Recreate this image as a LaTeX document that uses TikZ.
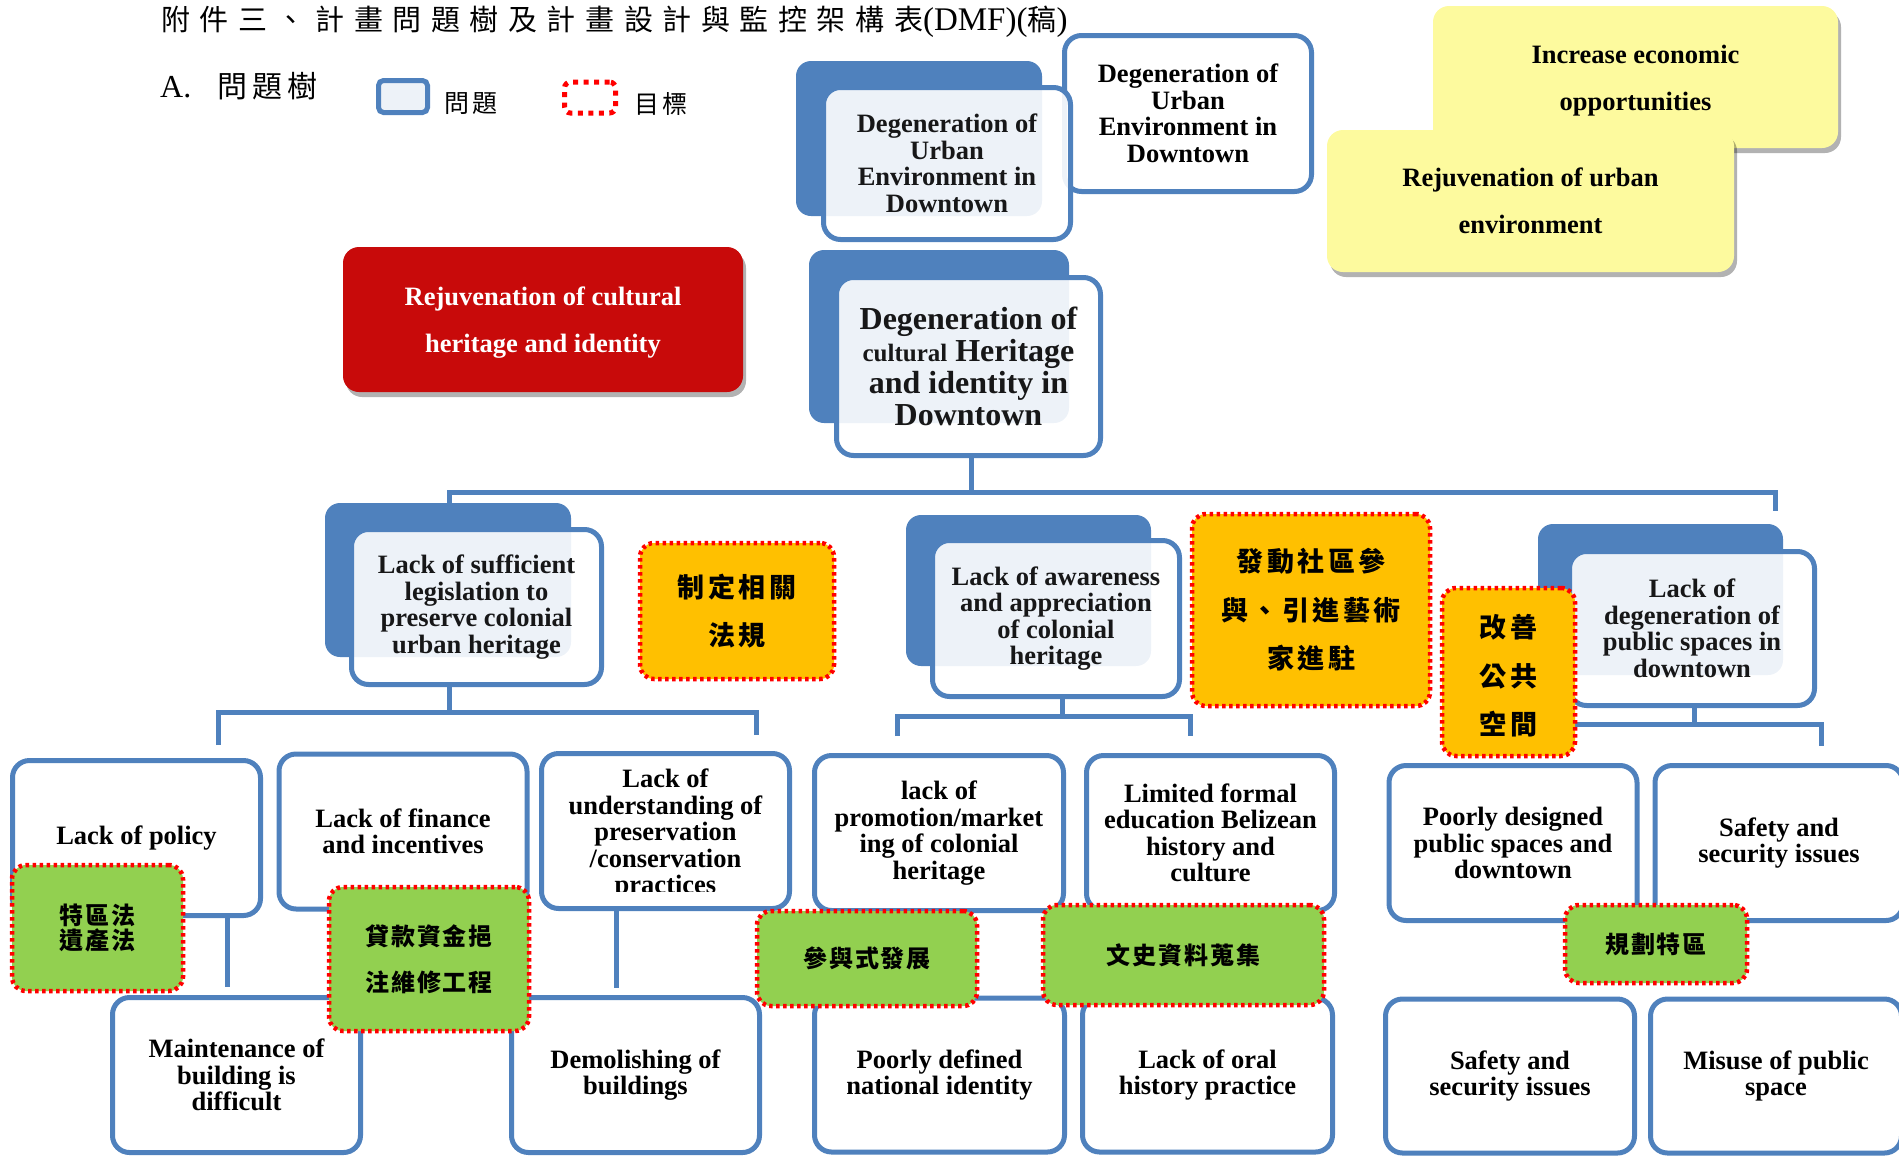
\documentclass[tikz,border=0pt]{standalone}
\usepackage{fontspec}
\setmainfont{Liberation Serif}
\newfontfamily\cjkT[LetterSpace=33]{Noto Sans CJK TC}
\newfontfamily\cjkA[LetterSpace=17]{Noto Sans CJK TC}
\newfontfamily\cjkL[LetterSpace=15]{Noto Sans CJK TC}
\newfontfamily\cjkO[LetterSpace=13]{Noto Sans CJK TC}
\newfontfamily\cjkG[LetterSpace=8]{Noto Sans CJK TC}
\usetikzlibrary{shadows}
\definecolor{bl}{HTML}{4F81BD}
\definecolor{lbl}{HTML}{EDF2F8}
\definecolor{org}{HTML}{FFC000}
\definecolor{grn}{HTML}{92D050}
\definecolor{ylw}{HTML}{FDFA9E}
\definecolor{rd}{HTML}{C80A0A}
\pgfdeclarelayer{bg}
\pgfsetlayers{bg,main}
\begin{document}
\begin{tikzpicture}[x=1pt,y=-1pt,
  en/.style={font={\fontsize{26.5}{26.5}\selectfont\bfseries}},
  prob/.style={draw=bl, line width=5pt, fill=white, rounded corners=17pt, inner sep=0pt, align=center, en},
  front/.style={prob, fill opacity=0.9},
  tabfill/.style={fill=bl, rounded corners=15pt},
  conn/.style={draw=bl, line width=5pt},
  goal/.style={draw=red, line width=4.5pt, dash pattern=on 3.5pt off 3.5pt, rounded corners=14pt, inner sep=0pt, align=center},
  ogoal/.style={goal, fill=org, font={\cjkO\fontsize{27}{48.5}\selectfont\bfseries}},
  ggoal/.style={goal, fill=grn, font={\cjkG\fontsize{24}{25}\selectfont\bfseries}},
  shad/.style={drop shadow={shadow xshift=3pt, shadow yshift=-5pt, opacity=0.3, fill=black}},
  ygoal/.style={fill=ylw, rounded corners=16pt, inner sep=0pt, align=center, shad, font={\fontsize{26.5}{47}\selectfont\bfseries}},
  rgoal/.style={fill=rd, rounded corners=16pt, inner sep=0pt, align=center, shad, text=white, font={\fontsize{26.5}{47}\selectfont\bfseries}}
]
\useasboundingbox (0,0) rectangle (1899,1157);

% title and legend
\node[anchor=west, inner sep=0pt] (title) at (161,22) {{\cjkT\fontsize{29}{29}\selectfont 附件三、計畫問題樹及計畫設計與監控架構表}{\fontsize{33}{33}\selectfont(DMF)(}{\cjkT\fontsize{29}{29}\selectfont 稿}{\fontsize{33}{33}\selectfont)}};
\node[anchor=west, inner sep=0pt] (secA) at (160,86) {{\fontsize{32}{32}\selectfont A.}\hspace{26pt}{\cjkA\fontsize{30}{30}\selectfont 問題樹}};
\node[draw=bl, line width=5pt, fill=lbl, rounded corners=5pt, minimum width=49pt, minimum height=32pt, inner sep=0pt] (LgP) at (403,96.5) {};
\node[anchor=west, inner sep=0pt, font={\cjkL\fontsize{25}{25}\selectfont}] (LgPt) at (444,104) {問題};
\node[draw=red, line width=5pt, dash pattern=on 5pt off 5.5pt, rounded corners=6pt, minimum width=51pt, minimum height=31pt, inner sep=0pt] (LgG) at (590,97.5) {};
\node[anchor=west, inner sep=0pt, font={\cjkL\fontsize{25}{25}\selectfont}] (LgGt) at (634,104) {目標};

% top group
\node[prob, minimum width=247pt, minimum height=156pt] (R1) at (1188,113.5) {Degeneration of\\Urban\\Environment in\\Downtown};
\fill[tabfill] (796,61) rectangle (1042,216);
\node[front, minimum width=247pt, minimum height=152pt] (F1) at (947,163.5) {Degeneration of\\Urban\\Environment in\\Downtown};
\fill[tabfill] (809,250) rectangle (1069,423);
\node[front, font={\fontsize{32}{32}\selectfont\bfseries}, minimum width=264pt, minimum height=178pt] (F2) at (968.5,366.5) {Degeneration of\\{\fontsize{25}{32}\selectfont cultural} Heritage\\and identity in\\Downtown};

\node[ygoal, minimum width=405pt, minimum height=142pt] (Y1) at (1635.5,77) {\rule{0pt}{26pt}Increase economic\\opportunities};
\node[ygoal, minimum width=407pt, minimum height=142pt] (Y2) at (1530.5,201) {Rejuvenation of urban\\environment};
\node[rgoal, minimum width=400pt, minimum height=145pt] (RG) at (543,319.5) {\rule{0pt}{25pt}Rejuvenation of cultural\\heritage and identity};

% level 2
\fill[tabfill] (325,503) rectangle (571,657);
\node[front, minimum width=250pt, minimum height=155pt] (A) at (476.5,607) {Lack of sufficient\\legislation to\\preserve colonial\\urban heritage};
\node[ogoal, minimum width=194pt, minimum height=136pt] (O1) at (737,611) {制定相關\\法規};
\fill[tabfill] (906,515) rectangle (1151,666);
\node[front, minimum width=247pt, minimum height=156pt] (C) at (1056,618.5) {Lack of awareness\\and appreciation\\of colonial\\heritage};
\node[ogoal, minimum width=238pt, minimum height=192pt] (D) at (1311,610) {發動社區參\\與、引進藝術\\家進駐};
\fill[tabfill] (1538,524) rectangle (1783,675);
\node[front, minimum width=245pt, minimum height=154pt] (E) at (1692,628.5) {Lack of\\degeneration of\\public spaces in\\downtown};
\node[ogoal, minimum width=133pt, minimum height=168pt] (Fo) at (1508.5,672) {\rule{0pt}{31pt}改善\\公共\\空間};

% level 3, row 1
\node[prob, minimum width=248pt, minimum height=155pt] (G1) at (136.5,838) {Lack of policy};
\node[prob, minimum width=248pt, minimum height=155pt] (G2) at (403,831.5) {Lack of finance\\and incentives};
\node[prob, minimum width=248pt, minimum height=155pt] (G3) at (665.5,831) {};
\begin{scope}
\clip (530,740) rectangle (800,891);
\node[en, align=center, inner sep=0pt] (G3t) at (665.5,834) {Lack of\\understanding of\\preservation\\/conservation\\practices};
\end{scope}
\node[prob, minimum width=249pt, minimum height=155pt] (G4) at (939,833) {lack of\\promotion/market\\ing of colonial\\heritage};
\node[prob, minimum width=248pt, minimum height=155pt] (G5) at (1210.5,833) {Limited formal\\education Belizean\\history and\\culture};
\node[prob, minimum width=248pt, minimum height=155pt] (G6) at (1513,843) {Poorly designed\\public spaces and\\downtown};
\node[prob, minimum width=248pt, minimum height=155pt] (G7) at (1779,843) {Safety and\\security issues};

% level 3, row 2
\node[prob, minimum width=248pt, minimum height=155pt] (H1) at (236.5,1075) {Maintenance of\\building is\\difficult};
\node[prob, minimum width=248pt, minimum height=155pt] (H2) at (635.5,1075) {Demolishing of\\buildings};
\node[prob, minimum width=250pt, minimum height=154pt] (H3) at (939.5,1075) {Poorly defined\\national identity};
\node[prob, minimum width=250pt, minimum height=154pt] (H4) at (1207.5,1075) {Lack of oral\\history practice};
\node[prob, minimum width=249pt, minimum height=154pt] (H5) at (1510,1076) {Safety and\\security issues};
\node[prob, minimum width=251pt, minimum height=154pt] (H6) at (1776,1076) {Misuse of public\\space};

% green goals
\node[ggoal, minimum width=171pt, minimum height=126pt] (K1) at (97.5,928) {特區法\\遺產法};
\node[ggoal, font={\cjkG\fontsize{24}{46}\selectfont\bfseries}, minimum width=200pt, minimum height=144pt] (K2) at (429,959) {貸款資金挹\\注維修工程};
\node[ggoal, minimum width=220pt, minimum height=95pt] (K3) at (867,958.5) {參與式發展};
\node[ggoal, minimum width=281pt, minimum height=100pt] (K4) at (1183.5,955) {文史資料蒐集};
\node[ggoal, minimum width=182pt, minimum height=78pt] (K5) at (1656,944) {規劃特區};

% connectors
\coordinate (rJ) at (971,492);
\coordinate (rL) at (449,505);
\coordinate (rR) at (1775,511);
\coordinate (aJ) at (449,712);
\coordinate (aL) at (218,745);
\coordinate (aR) at (756,735);
\coordinate (cJ) at (1062,716);
\coordinate (cL) at (897,736);
\coordinate (cR) at (1190,736);
\coordinate (eJ) at (1694,724);
\coordinate (eL) at (1500,724);
\coordinate (eR) at (1821,746);
\coordinate (v1) at (227,987);
\coordinate (v2) at (616,988);
\begin{pgfonlayer}{bg}
\draw[conn] (F2.south -| rJ) -- (rJ);
\draw[conn] (rL) -- (rL |- rJ) -- (rR |- rJ) -- (rR);
\draw[conn] (A.south -| aJ) -- (aJ);
\draw[conn] (aL) -- (aL |- aJ) -- (aR |- aJ) -- (aR);
\draw[conn] (C.south -| cJ) -- (cJ);
\draw[conn] (cL) -- (cL |- cJ) -- (cR |- cJ) -- (cR);
\draw[conn] (E.south -| eJ) -- (eJ);
\draw[conn] (eL) -- (eR |- eL) -- (eR);
\draw[conn] (G1.south -| v1) -- (v1);
\draw[conn] (G3.south -| v2) -- (v2);
\end{pgfonlayer}
\end{tikzpicture}
\end{document}
